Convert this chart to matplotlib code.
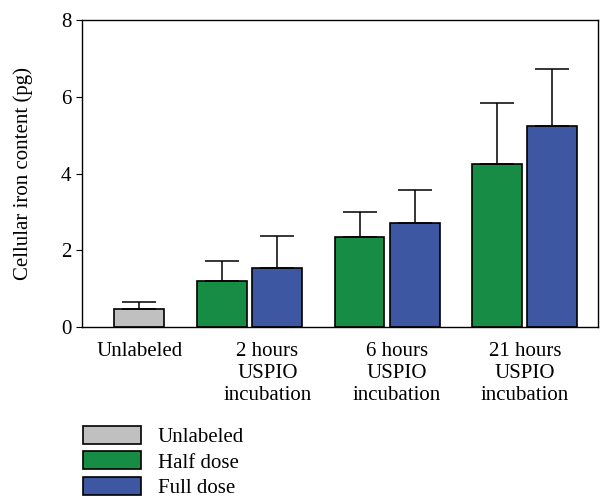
import numpy as np
import matplotlib.pyplot as plt
from matplotlib.patches import Patch

plt.rcParams['font.family'] = ['Liberation Serif', 'DejaVu Serif']

# data
groups = ['Unlabeled', '2 hours\nUSPIO\nincubation', '6 hours\nUSPIO\nincubation',
          '21 hours\nUSPIO\nincubation']
unlabeled_val = [0.48]
unlabeled_err = [0.17]
half_dose = [1.20, 2.35, 4.25]
half_err = [0.53, 0.66, 1.59]
full_dose = [1.54, 2.71, 5.23]
full_err = [0.83, 0.86, 1.50]

colors = {'Unlabeled': '#c0c0c0', 'Half dose': '#178c44', 'Full dose': '#3d57a3'}
fs = 15

fig = plt.figure(figsize=(6.1, 5.04), dpi=100)
ax = fig.add_axes([0.134, 0.351, 0.846, 0.609])

width = 0.362
off = 0.2
pos = np.arange(1, 4)
err_kw = dict(ecolor='black', elinewidth=1.1, capsize=12, capthick=1.1)

ax.bar([off], unlabeled_val, width, color=colors['Unlabeled'], edgecolor='black',
       linewidth=1.2, yerr=[[0], unlabeled_err], error_kw=err_kw, zorder=2)
ax.bar(pos - off, half_dose, width, color=colors['Half dose'], edgecolor='black',
       linewidth=1.2, yerr=[np.zeros(3), half_err], error_kw=err_kw, zorder=2)
ax.bar(pos + off, full_dose, width, color=colors['Full dose'], edgecolor='black',
       linewidth=1.2, yerr=[np.zeros(3), full_err], error_kw=err_kw, zorder=2)

ax.set_xlim(-0.217, 3.53)
ax.set_ylim(0, 8)
ax.set_yticks([0, 2, 4, 6, 8])
ax.set_xticks([0.2, 1.13, 2.07, 3.0])
ax.set_xticklabels(groups, linespacing=1.2)
ax.tick_params(axis='x', length=0, pad=11, labelsize=fs)
ax.tick_params(axis='y', direction='out', length=4, labelsize=fs)
ax.set_ylabel('Cellular iron content (pg)', fontsize=fs, labelpad=20)
for s in ax.spines.values():
    s.set_linewidth(1.0)

handles = [Patch(facecolor=c, edgecolor='black', linewidth=1.2, label=k)
           for k, c in colors.items()]
fig.legend(handles=handles, loc='upper left', bbox_to_anchor=(0.122, 0.171),
           frameon=False, fontsize=fs, handlelength=2.8, handleheight=0.95,
           labelspacing=0.2, handletextpad=0.8, borderaxespad=0)

fig.savefig('out.png', dpi=100)
